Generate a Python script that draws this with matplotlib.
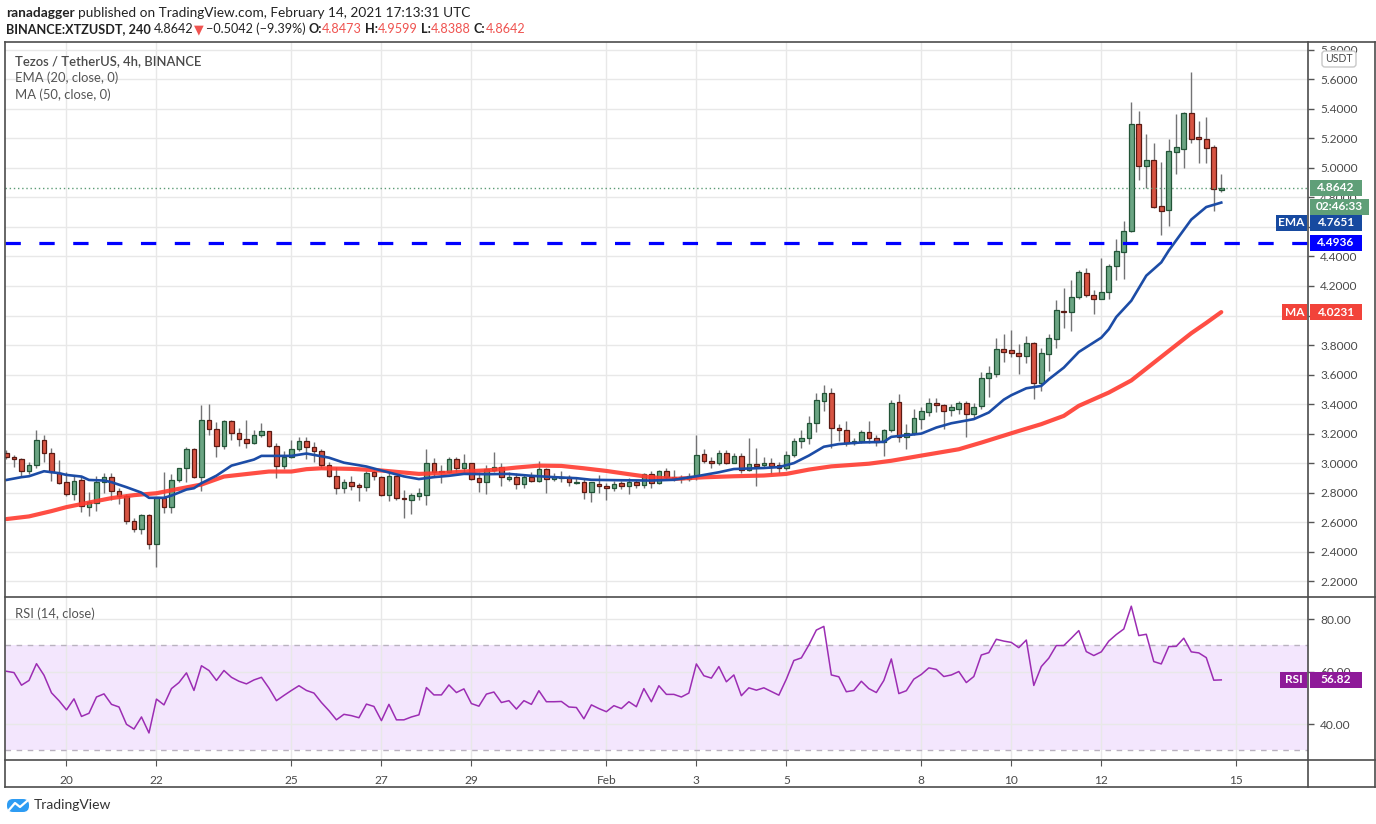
import numpy as np
import pandas as pd
import matplotlib
matplotlib.use("Agg")
import matplotlib.pyplot as plt
from matplotlib.patches import Rectangle, FancyBboxPatch
from matplotlib.lines import Line2D
from matplotlib.transforms import IdentityTransform

plt.rcParams["font.family"] = ["Lato", "DejaVu Sans"]

# XTZ/USDT 4h candles, first bar 2021-01-18 16:00 UTC
start = pd.Timestamp("2021-01-18 16:00")
opens = [3.07, 3.042, 3.026, 2.945, 2.986, 3.155, 3.067, 2.934, 2.871, 2.790,
         2.884, 2.702, 2.729, 2.871, 2.905, 2.810, 2.776, 2.607, 2.553, 2.648,
         2.452, 2.765, 2.702, 2.889, 2.968, 3.094, 2.905, 3.29, 3.229, 3.114,
         3.283, 3.202, 3.161, 3.134, 3.188, 3.215, 3.114, 2.979, 3.04, 3.094,
         3.148, 3.111, 3.084, 2.988, 2.916, 2.829, 2.869, 2.849, 2.836, 2.939,
         2.903, 2.787, 2.91, 2.764, 2.753, 2.775, 2.787, 2.999, 2.947, 2.943,
         3.026, 2.97, 2.999, 2.898, 2.869, 2.954, 2.972, 2.894, 2.909, 2.856,
         2.903, 2.88, 2.963, 2.894, 2.898, 2.903, 2.863, 2.869, 2.802, 2.86,
         2.842, 2.829, 2.864, 2.844, 2.873, 2.849, 2.927, 2.862, 2.944, 2.904,
         2.904, 2.893, 2.911, 3.062, 3.011, 3.004, 3.071, 3.004, 3.051, 2.951,
         2.996, 2.984, 2.998, 2.984, 2.967, 3.056, 3.151, 3.171, 3.271, 3.422,
         3.473, 3.238, 3.224, 3.138, 3.151, 3.211, 3.171, 3.144, 3.224, 3.411,
         3.18, 3.204, 3.302, 3.349, 3.41, 3.395, 3.361, 3.365, 3.41, 3.336,
         3.388, 3.577, 3.607, 3.772, 3.765, 3.749, 3.726, 3.817, 3.546, 3.742,
         3.839, 4.03, 4.025, 4.128, 4.286, 4.142, 4.115, 4.158, 4.334, 4.433,
         4.575, 5.295, 5.015, 5.054, 4.742, 4.717, 5.11, 5.13, 5.374, 5.207,
         5.196, 5.14, 4.8473]
highs = [3.09, 3.055, 3.035, 3.006, 3.224, 3.188, 3.103, 3.022, 2.943, 2.916,
         2.916, 2.803, 2.916, 2.934, 2.934, 2.833, 2.792, 2.630, 2.657, 2.655,
         2.770, 2.941, 2.927, 2.968, 3.107, 3.10, 3.393, 3.40, 3.281, 3.29,
         3.29, 3.238, 3.292, 3.224, 3.269, 3.22, 3.136, 3.08, 3.16, 3.18,
         3.18, 3.144, 3.095, 3.01, 2.977, 2.892, 2.916, 2.865, 2.95, 2.954,
         2.91, 2.932, 2.915, 2.82, 2.798, 2.831, 3.093, 3.037, 2.988, 3.044,
         3.044, 3.059, 3.003, 2.943, 2.988, 3.077, 3.003, 2.943, 2.932, 2.925,
         2.943, 3.017, 2.966, 2.932, 2.95, 2.92, 2.898, 2.892, 2.872, 2.92,
         2.865, 2.878, 2.878, 2.90, 2.889, 2.933, 2.944, 2.956, 2.967, 2.956,
         2.922, 2.933, 3.193, 3.093, 3.044, 3.089, 3.089, 3.067, 3.067, 3.173,
         3.10, 3.044, 3.033, 3.007, 3.082, 3.167, 3.227, 3.322, 3.478, 3.527,
         3.511, 3.267, 3.282, 3.167, 3.222, 3.284, 3.189, 3.233, 3.429, 3.467,
         3.267, 3.367, 3.377, 3.44, 3.44, 3.40, 3.399, 3.422, 3.424, 3.41,
         3.618, 3.659, 3.851, 3.873, 3.90, 3.805, 3.862, 3.821, 3.778, 3.878,
         4.103, 4.189, 4.239, 4.309, 4.32, 4.173, 4.39, 4.35, 4.516, 4.638,
         5.447, 5.386, 5.23, 5.171, 5.042, 5.196, 5.365, 5.381, 5.65, 5.318,
         5.345, 5.156, 4.9599]
lows = [3.03, 2.977, 2.916, 2.927, 2.968, 3.006, 2.882, 2.859, 2.777, 2.747,
        2.670, 2.639, 2.675, 2.799, 2.751, 2.720, 2.585, 2.531, 2.522, 2.418,
        2.296, 2.664, 2.664, 2.871, 2.871, 2.90, 2.814, 3.193, 3.044, 3.094,
        3.159, 3.118, 3.10, 3.13, 3.18, 3.11, 2.898, 2.96, 3.033, 3.085,
        3.028, 3.01, 2.97, 2.903, 2.793, 2.798, 2.82, 2.746, 2.809, 2.887,
        2.78, 2.742, 2.753, 2.626, 2.653, 2.753, 2.713, 2.91, 2.865, 2.932,
        2.943, 2.943, 2.887, 2.804, 2.793, 2.943, 2.847, 2.876, 2.827, 2.831,
        2.869, 2.869, 2.798, 2.876, 2.871, 2.847, 2.858, 2.76, 2.735, 2.798,
        2.753, 2.809, 2.822, 2.793, 2.833, 2.833, 2.829, 2.856, 2.889, 2.878,
        2.867, 2.878, 2.889, 3.0, 2.967, 2.989, 2.996, 3.0, 2.933, 2.944,
        2.844, 2.967, 2.927, 2.933, 2.956, 3.044, 3.10, 3.127, 3.211, 3.356,
        3.10, 3.149, 3.118, 3.122, 3.133, 3.133, 3.118, 3.051, 3.211, 3.14,
        3.093, 3.189, 3.230, 3.32, 3.343, 3.234, 3.316, 3.331, 3.18, 3.309,
        3.365, 3.451, 3.584, 3.686, 3.722, 3.602, 3.677, 3.433, 3.489, 3.625,
        3.783, 3.918, 3.896, 4.11, 4.126, 4.009, 4.11, 4.11, 4.241, 4.248,
        4.564, 4.918, 4.866, 4.726, 4.546, 4.609, 4.959, 5.002, 5.171, 5.036,
        5.036, 4.711, 4.8388]
closes = [3.04, 3.026, 2.945, 2.988, 3.155, 3.067, 2.938, 2.868, 2.790, 2.877,
          2.709, 2.736, 2.874, 2.905, 2.810, 2.776, 2.607, 2.553, 2.648, 2.452,
          2.769, 2.702, 2.884, 2.968, 3.094, 2.905, 3.29, 3.229, 3.118, 3.283,
          3.202, 3.161, 3.134, 3.188, 3.215, 3.114, 2.979, 3.04, 3.094, 3.148,
          3.107, 3.082, 2.988, 2.916, 2.829, 2.869, 2.847, 2.836, 2.932, 2.91,
          2.787, 2.91, 2.762, 2.76, 2.782, 2.795, 2.999, 2.943, 2.943, 3.026,
          2.97, 2.999, 2.894, 2.869, 2.959, 2.972, 2.903, 2.909, 2.856, 2.903,
          2.88, 2.963, 2.894, 2.903, 2.903, 2.869, 2.869, 2.802, 2.869, 2.842,
          2.829, 2.86, 2.842, 2.873, 2.849, 2.927, 2.862, 2.944, 2.904, 2.896,
          2.893, 2.911, 3.056, 3.011, 3.004, 3.071, 3.004, 3.051, 2.951, 2.996,
          2.982, 2.998, 2.982, 2.967, 3.056, 3.153, 3.171, 3.271, 3.427, 3.473,
          3.238, 3.222, 3.133, 3.151, 3.211, 3.171, 3.144, 3.224, 3.404, 3.18,
          3.204, 3.304, 3.352, 3.41, 3.395, 3.354, 3.377, 3.404, 3.336, 3.383,
          3.58, 3.609, 3.772, 3.754, 3.745, 3.726, 3.812, 3.546, 3.745, 3.846,
          4.036, 4.025, 4.128, 4.293, 4.14, 4.115, 4.158, 4.336, 4.435, 4.571,
          5.295, 5.015, 5.054, 4.738, 4.711, 5.115, 5.142, 5.374, 5.198, 5.198,
          5.137, 4.855, 4.8642]

# EMA(20) and MA(50) at these bars
ema_bar = [0, 2, 3, 5, 7, 8, 10, 11, 13, 14, 16, 18, 19, 21, 22, 24, 25, 26, 28, 30,
           33, 34, 36, 38, 40, 43, 45, 48, 50, 53, 55, 57, 59, 61, 64, 67, 70, 73, 76, 78,
           82, 86, 89, 92, 95, 97, 101, 103, 105, 107, 109, 111, 114, 117, 118, 122, 124,
           126, 129, 131, 133, 134, 136, 138, 139, 141, 143, 146, 147, 148, 150, 152, 154,
           155, 157, 158, 160, 162]
ema_val = [2.886, 2.905, 2.911, 2.945, 2.932, 2.92, 2.909, 2.886, 2.882, 2.871, 2.837,
           2.80, 2.765, 2.765, 2.78, 2.821, 2.83, 2.864, 2.915, 2.983, 3.024, 3.049, 3.049,
           3.049, 3.065, 3.037, 3.003, 2.977, 2.95, 2.91, 2.892, 2.905, 2.914, 2.927, 2.925,
           2.927, 2.914, 2.905, 2.898, 2.887, 2.884, 2.882, 2.887, 2.911, 2.938, 2.96, 2.967,
           2.973, 3.0, 3.051, 3.111, 3.129, 3.14, 3.144, 3.178, 3.2, 3.241, 3.27, 3.298,
           3.343, 3.43, 3.46, 3.507, 3.523, 3.568, 3.647, 3.753, 3.85, 3.907, 3.99, 4.10,
           4.27, 4.36, 4.44, 4.58, 4.65, 4.735, 4.7651]
ma_bar = [0, 3, 6, 8, 11, 14, 17, 20, 23, 26, 29, 35, 38, 40, 42, 46, 50, 55, 58, 61,
          65, 68, 71, 74, 77, 80, 83, 86, 89, 93, 97, 101, 104, 107, 110, 115, 118, 122,
          127, 130, 135, 138, 141, 143, 147, 150, 152, 154, 156, 158, 160, 162]
ma_val = [2.621, 2.639, 2.675, 2.702, 2.733, 2.763, 2.783, 2.796, 2.826, 2.855, 2.909,
          2.943, 2.943, 2.959, 2.965, 2.961, 2.95, 2.927, 2.932, 2.943, 2.954, 2.97, 2.983,
          2.981, 2.965, 2.947, 2.925, 2.904, 2.893, 2.904, 2.911, 2.916, 2.927, 2.956,
          2.978, 2.996, 3.016, 3.051, 3.094, 3.139, 3.218, 3.264, 3.32, 3.388, 3.478,
          3.56, 3.64, 3.72, 3.80, 3.88, 3.95, 4.0231]

# RSI(14) per bar
rsi = [60.1, 59.6, 54.8, 56.6, 63.0, 58.6, 51.9, 48.9, 45.4, 49.6,
       42.9, 44.1, 50.3, 51.5, 47.5, 46.5, 39.9, 38.1, 42.7, 36.6,
       49.5, 47.3, 53.5, 55.8, 59.5, 52.8, 62.2, 60.4, 56.6, 60.4,
       57.8, 56.3, 55.3, 56.8, 57.8, 53.7, 48.9, 50.9, 52.8, 54.6,
       52.8, 51.8, 48.2, 45.1, 41.6, 43.7, 43.2, 42.4, 47.6, 46.7,
       41.3, 47.5, 41.6, 41.6, 42.7, 43.5, 53.9, 51.1, 51.1, 54.9,
       52.0, 53.4, 47.8, 46.8, 51.4, 52.2, 48.2, 48.9, 45.7, 48.9,
       47.5, 52.7, 48.5, 48.5, 48.6, 46.5, 46.3, 42.0, 47.3, 45.9,
       44.7, 47.0, 45.9, 48.5, 46.6, 53.5, 48.5, 54.6,
       51.3, 51.3, 50.3, 51.8, 62.9, 58.4, 57.5, 61.9, 56.1, 58.7,
       50.8, 53.8, 52.9, 53.8, 52.4, 51.0, 57.1, 64.2, 65.2, 70.1,
       75.8, 77.2, 58.7, 58.0, 52.3, 52.8, 56.3, 53.5, 52.0, 56.6,
       64.8, 51.6, 52.7, 57.1, 58.9, 61.4, 60.8, 58.1, 58.7, 60.0,
       55.8, 58.1, 66.3, 67.2, 72.3, 71.6, 71.1, 69.1, 72.0, 54.7,
       61.9, 65.1, 69.9, 69.9, 72.7, 75.6, 67.6, 66.1, 67.5, 71.6,
       74.1, 76.2, 84.9, 73.7, 74.2, 63.8, 62.9, 69.5, 69.6, 72.7,
       67.5, 67.1, 65.3, 56.7, 56.82]

support = 4.4936
price_ticks = [2.2, 2.4, 2.6, 2.8, 3.0, 3.2, 3.4, 3.6, 3.8, 4.0, 4.2, 4.4, 4.6,
               4.8, 5.0, 5.2, 5.4, 5.6, 5.8]
hidden_ticks = [4.0, 4.6]  # fully covered by the MA / EMA tags
rsi_ticks = [40, 60, 80]
date_ticks = ["2021-01-20", "2021-01-22", "2021-01-25", "2021-01-27", "2021-01-29",
              "2021-02-01", "2021-02-03", "2021-02-05", "2021-02-08", "2021-02-10",
              "2021-02-12", "2021-02-15"]
date_labels = ["20", "22", "25", "27", "29", "Feb", "3", "5", "8", "10", "12", "15"]

O = np.array(opens)
Hh = np.array(highs)
L = np.array(lows)
C = np.array(closes)
x = np.arange(len(C))
bar4h = pd.Timedelta("4h")
tick_x = [(pd.Timestamp(d) - start) / bar4h for d in date_ticks]

W, H = 1376, 824
fig = plt.figure(figsize=(W / 100, H / 100), dpi=100)
fig.patch.set_facecolor("white")


def frac(x0, y0, x1, y1):
    return [x0 / W, 1 - y1 / H, (x1 - x0) / W, (y1 - y0) / H]


ax = fig.add_axes(frac(5, 42, 1307.5, 597))
rx = fig.add_axes(frac(5, 597, 1307.5, 760), sharex=ax)

grid_c = "#e8e8e8"
txt_c = "#4a4a4a"
for a in (ax, rx):
    for s in a.spines.values():
        s.set_visible(False)
    a.set_axisbelow(True)
    a.yaxis.tick_right()
    a.tick_params(axis="y", length=4, width=1, color="#555555", labelcolor=txt_c,
                  labelsize=8.6, pad=5)
    a.set_xticks(tick_x)
    a.grid(True, color=grid_c, lw=1)

ax.tick_params(axis="x", length=0, labelbottom=False)
rx.tick_params(axis="x", length=4, color="#555555", labelcolor=txt_c, labelsize=8.6, pad=7)
rx.set_xticklabels(date_labels)
ax.set_xlim(-0.2, 173.5)

# candles
up = C >= O
body_lo = np.minimum(O, C)
body_h = np.abs(C - O)
ax.vlines(x, L, Hh, color="#737375", lw=1, zorder=2)
ax.bar(x[up], body_h[up], bottom=body_lo[up], width=0.62, color="#6ba583",
       edgecolor="#225437", lw=0.9, zorder=3)
ax.bar(x[~up], body_h[~up], bottom=body_lo[~up], width=0.62, color="#d75442",
       edgecolor="#5b1a13", lw=0.9, zorder=3)

ax.plot(ma_bar, ma_val, color="#ff3b30", lw=3.0, alpha=0.9, zorder=4,
        solid_capstyle="round", solid_joinstyle="round")
ax.plot(ema_bar, ema_val, color="#1c4ca6", lw=1.9, zorder=5, solid_joinstyle="round")
ax.axhline(support, color="#0000ff", lw=2.3, dashes=(4.8, 5.8), zorder=4)
ax.axhline(C[-1], color="#5c9c76", lw=1, ls=(0, (1, 2)), zorder=4)

ax.set_ylim(2.093, 5.853)
ax.set_yticks(price_ticks)
ax.set_yticklabels(["" if v in hidden_ticks else f"{v:.4f}" for v in price_ticks])

# RSI panel
rx.axhspan(30, 70, color="#f3e6fd", zorder=0.2, lw=0)
for lvl in (70, 30):
    rx.axhline(lvl, color="#b9b2bf", lw=1, dashes=(4, 4), zorder=1)
rx.plot(x, rsi, color="#9c2db3", lw=1.1, zorder=3)
rx.set_ylim(26.3, 88.4)
rx.set_yticks(rsi_ticks)
rx.set_yticklabels([f"{v:.2f}" for v in rsi_ticks])

# frame lines
ID = IdentityTransform()


def hline(y, x0, x1, c="#4d4d4d", lw=1.2):
    fig.add_artist(Line2D([x0, x1], [H - y, H - y], color=c, lw=lw, transform=ID))


def vline(xp, y0, y1, c="#4d4d4d", lw=1.2):
    fig.add_artist(Line2D([xp, xp], [H - y0, H - y1], color=c, lw=lw, transform=ID))


for yy in (42, 597, 760, 787):
    hline(yy, 5, 1375)
for xx in (5, 1307.5, 1375):
    vline(xx, 42, 787)


def ftext(xp, yp, s, **kw):
    return fig.text(xp / W, 1 - yp / H, s, **kw)


def tag(axis, val, s, fc, x0=1310, x1=1362, dy=0, h=16, size=8.6):
    yd = axis.transData.transform((0, val))[1] - dy
    fig.add_artist(Rectangle((x0, yd - h / 2), x1 - x0, h, transform=ID, fc=fc,
                             ec="none", zorder=5))
    fig.text((x0 + x1) / 2 / W, yd / H, s, ha="center", va="center", color="white",
             fontsize=size, fontweight="bold", zorder=6)


green_tag = "#5f9f78"
tag(ax, C[-1], f"{C[-1]:.4f}", green_tag)
tag(ax, C[-1], "02:46:33", green_tag, x1=1369, dy=19)
tag(ax, ema_val[-1], f"{ema_val[-1]:.4f}", "#174aa0", dy=20)
tag(ax, ema_val[-1], "EMA", "#174aa0", x0=1276, x1=1307, dy=20)
tag(ax, support, f"{support:.4f}", "#0000ff")
tag(ax, ma_val[-1], f"{ma_val[-1]:.4f}", "#f2433a")
tag(ax, ma_val[-1], "MA", "#f2433a", x0=1282, x1=1307)
tag(rx, rsi[-1], f"{rsi[-1]:.2f}", "#8e1a99")
tag(rx, rsi[-1], "RSI", "#8e1a99", x0=1280, x1=1307)

fig.add_artist(FancyBboxPatch((1322, H - 67), 34, 16, boxstyle="round,pad=0,rounding_size=3",
                              transform=ID, fc="white", ec="#c8c8c8", lw=1, zorder=5))
ftext(1339, 59, "USDT", ha="center", va="center", fontsize=7.6, color=txt_c, zorder=6)

# legends inside panels
ftext(15, 61, "Tezos / TetherUS, 4h, BINANCE", fontsize=9.4, color=txt_c,
      fontweight="semibold", va="center")
ftext(15, 78, "EMA (20, close, 0)", fontsize=9.4, color="#555555", va="center")
ftext(15, 95, "MA (50, close, 0)", fontsize=9.4, color="#555555", va="center")
ftext(15, 614, "RSI (14, close)", fontsize=9.4, color="#555555", va="center")

# header lines
renderer = fig.canvas.get_renderer()


def runs(xp, yp, parts, size=9.8):
    for s, color, weight, gap in parts:
        t = ftext(xp, yp, s, color=color, fontweight=weight, fontsize=size, va="center")
        xp += t.get_window_extent(renderer=renderer).width + gap


red = "#ef5350"
dark = "#222222"
runs(6, 13, [("ranadagger", dark, "bold", 3),
             ("published on TradingView.com, February 14, 2021 17:13:31 UTC", dark, "normal", 0)])
runs(6, 29, [("BINANCE:XTZUSDT, 240", dark, "bold", 3),
             ("4.8642", dark, "normal", 1),
             ("\u25bc", red, "normal", 2),
             ("\u22120.5042 (\u22129.39%)", dark, "normal", 3),
             ("O:", dark, "bold", 0), ("4.8473", red, "normal", 3),
             ("H:", dark, "bold", 0), ("4.9599", red, "normal", 3),
             ("L:", dark, "bold", 0), ("4.8388", red, "normal", 3),
             ("C:", dark, "bold", 0), ("4.8642", red, "normal", 0)], size=9.1)

# TradingView logo
fig.add_artist(FancyBboxPatch((7, H - 812), 22, 13, boxstyle="round,pad=0,rounding_size=6",
                              transform=ID, fc="#2e9cf3", ec="none"))
fig.add_artist(Line2D([9, 15, 20, 27], [H - 810, H - 803, H - 807, H - 801],
                      color="white", lw=1.6, transform=ID))
ftext(34, 805, "TradingView", fontsize=10, color="#333333", va="center")

fig.savefig("out.png", dpi=100)
